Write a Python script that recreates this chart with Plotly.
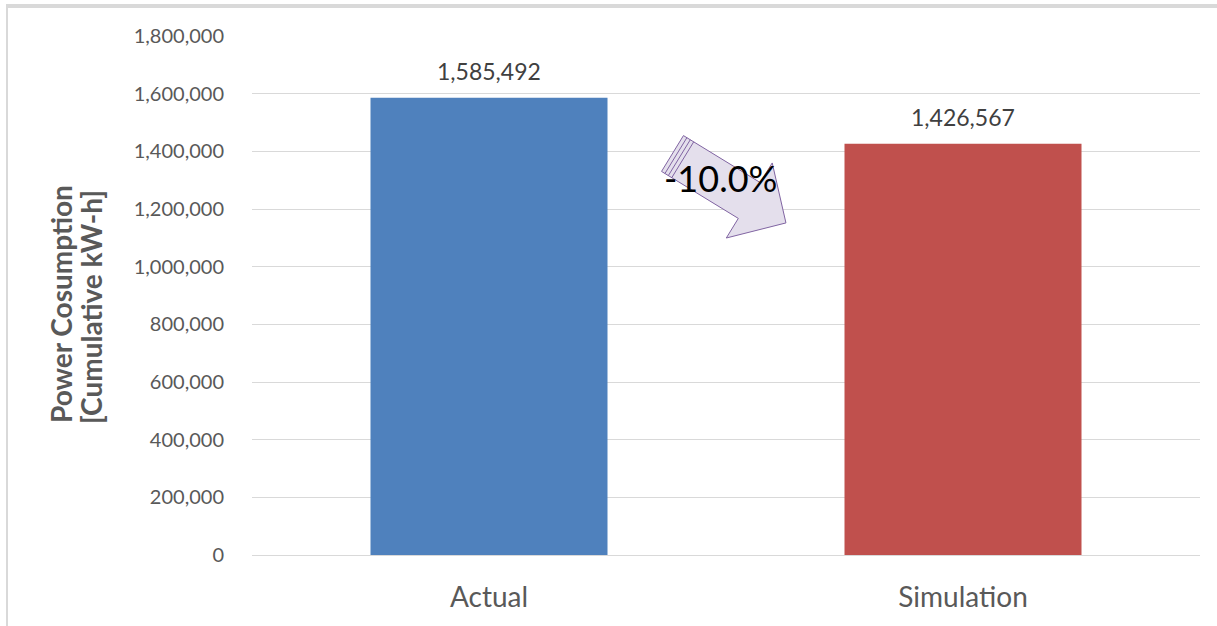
import plotly.graph_objects as go

# Chart data
categories = ["Actual", "Simulation"]
consumption = [1585492, 1426567]
bar_colors = ["#4F81BD", "#C0504D"]
y_ticks = [0, 200000, 400000, 600000, 800000, 1000000, 1200000, 1400000, 1600000, 1800000]
change_label = "-10.0%"
title_lines = ["Power Cosumption", "[Cumulative kW-h]"]

FONT = "Lato, Carlito, sans-serif"

# Page geometry (pixels)
W, H = 1217, 626
ML, MR, MT, MB = 252, 17, 36, 71
PW, PH = W - ML - MR, H - MT - MB


def to_paper(x, y):
    """Convert page pixel coordinates to paper coordinates."""
    return (x - ML) / PW, (H - MB - y) / PH


def path_from(points, close=True):
    parts = []
    for i, (x, y) in enumerate(points):
        px, py = to_paper(x, y)
        parts.append(("M" if i == 0 else "L") + f"{px:.5f},{py:.5f}")
    return " ".join(parts) + (" Z" if close else "")


fig = go.Figure(
    go.Bar(
        x=categories,
        y=consumption,
        marker=dict(color=bar_colors, line=dict(width=0)),
        hoverinfo="x+y",
    )
)

# Value labels above each bar
for cat, val in zip(categories, consumption):
    fig.add_annotation(
        x=cat, y=val, xref="x", yref="y",
        text=f"{val:,}", showarrow=False,
        yanchor="bottom", yshift=11,
        font=dict(family=FONT, size=23, color="#404040"),
    )

# Striped block arrow showing the reduction
cx, cy = 672.5, 153.5           # tail centre
dx, dy = 0.853, 0.522           # shaft direction
nx, ny = -0.522, 0.853          # perpendicular


def local(u, v):
    return cx + u * dx + v * nx, cy + u * dy + v * ny


arrow_pts = [local(0, -21), local(90, -21), local(90, -44), local(133, 0),
             local(90, 44), local(90, 21), local(0, 21)]
fig.add_shape(type="path", xref="paper", yref="paper", path=path_from(arrow_pts),
              fillcolor="#E4DFEC", line=dict(color="#8064A2", width=1), layer="above")
for off in (4, 8, 12):
    fig.add_shape(type="path", xref="paper", yref="paper",
                  path=path_from([local(off, -21), local(off, 21)], close=False),
                  line=dict(color="#8064A2", width=1), layer="above")

ax, ay = to_paper(720, 178)
fig.add_annotation(
    x=ax, y=ay, xref="paper", yref="paper", text=change_label, showarrow=False,
    xanchor="center", yanchor="middle",
    font=dict(family=FONT, size=36, color="#000000"),
)

# Y axis title, one annotation per line
for line, (lx, ly) in zip(title_lines, [(61, 304), (91, 307)]):
    px, py = to_paper(lx, ly)
    fig.add_annotation(
        x=px, y=py, xref="paper", yref="paper",
        text=f"<b>{line}</b>",
        showarrow=False, textangle=-90, xanchor="center", yanchor="middle",
        font=dict(family=FONT, size=28, color="#595959"),
    )

# Outer frame lines of the chart area
x0, y0 = to_paper(6, 4)
x1, y1 = to_paper(W, 8)
fig.add_shape(type="rect", xref="paper", yref="paper", x0=x0, y0=y0, x1=x1, y1=y1,
              fillcolor="#D9D9D9", line=dict(width=0))
x0, y0 = to_paper(6, 8)
x1, y1 = to_paper(8, H)
fig.add_shape(type="rect", xref="paper", yref="paper", x0=x0, y0=y0, x1=x1, y1=y1,
              fillcolor="#D9D9D9", line=dict(width=0))

fig.update_layout(
    width=W, height=H,
    margin=dict(l=ML, r=MR, t=MT, b=MB),
    paper_bgcolor="white", plot_bgcolor="white",
    bargap=0.5, showlegend=False,
    font=dict(family=FONT, color="#595959"),
)
fig.update_xaxes(
    showgrid=False, showline=True, linecolor="#D9D9D9", linewidth=1,
    tickfont=dict(size=28, color="#595959"), ticks="", ticklabelstandoff=17,
)
fig.update_yaxes(
    range=[0, 1800000], tickvals=y_ticks, tickformat=",",
    showgrid=True, gridcolor="#D9D9D9", gridwidth=1, zeroline=False,
    showline=False, ticks="", ticklabelstandoff=27,
    tickfont=dict(size=20, color="#595959"),
)

fig.write_html("out.html")
